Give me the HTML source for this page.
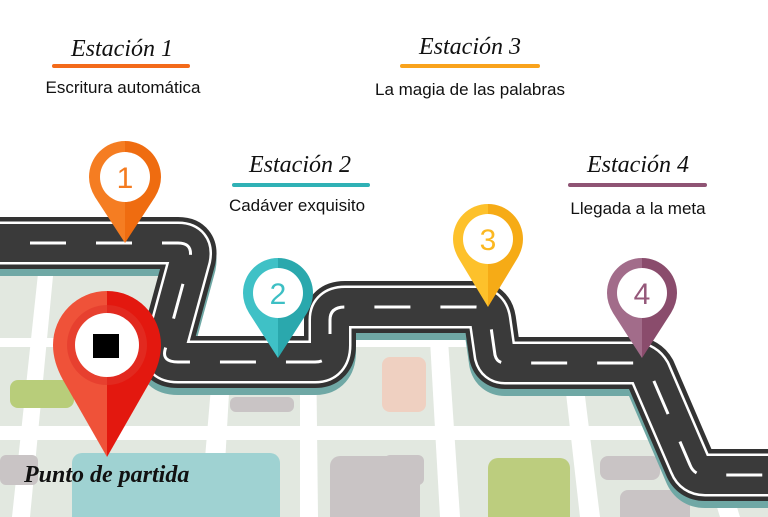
<!DOCTYPE html>
<html><head><meta charset="utf-8"><style>
html,body{margin:0;padding:0;background:#fff;width:768px;height:517px;overflow:hidden}
svg{display:block}
.s{font-family:"Liberation Serif",serif;font-style:italic;font-size:24px;fill:#111}
.l{font-family:"Liberation Sans",sans-serif;font-size:17px;fill:#111}
</style></head><body>
<svg width="768" height="517" viewBox="0 0 768 517" xmlns="http://www.w3.org/2000/svg">
<rect x="0" y="255" width="768" height="262" fill="#e2e8e0"/>
<!-- streets -->
<g fill="#fff">
<rect x="0" y="338" width="768" height="9"/>
<rect x="0" y="426" width="768" height="14"/>
<polygon points="40,255 55,255 30,517 12,517"/>
<polygon points="215,340 232,340 222,517 200,517"/>
<polygon points="300,340 316,340 318,517 300,517"/>
<polygon points="430,340 448,340 460,517 440,517"/>
<polygon points="560,340 578,340 600,517 580,517"/>
<polygon points="690,420 710,420 740,517 720,517"/>
</g>
<!-- blocks -->
<rect x="10" y="380" width="64" height="28" rx="8" fill="#b8cd7a"/>
<rect x="72" y="453" width="208" height="80" rx="10" fill="#9fd2d2"/>
<rect x="0" y="455" width="38" height="30" rx="6" fill="#c9c4c5"/>
<rect x="230" y="397" width="64" height="15" rx="6" fill="#c9c4c5"/>
<rect x="382" y="357" width="44" height="55" rx="8" fill="#efd0c1"/>
<rect x="330" y="456" width="90" height="70" rx="10" fill="#c9c4c5"/>
<rect x="488" y="458" width="82" height="70" rx="10" fill="#bccd7e"/>
<rect x="600" y="456" width="60" height="24" rx="8" fill="#c9c4c5"/>
<rect x="620" y="490" width="70" height="40" rx="8" fill="#c9c4c5"/>
<rect x="384" y="455" width="40" height="30" rx="6" fill="#c9c4c5"/>
<!-- white area above road -->
<path d="M0 0 H768 V475 H705 Q694 475 690 465 L650 372 Q645 363 635 363 H505 Q497 363 495 355 L490 320 Q488 307 475 307 H345 Q330 307 330 320 V345 Q330 362 315 362 H178 Q162 362 165 350 L190 258 Q193 243 178 243 H0 Z" fill="#fff"/>
<!-- road -->
<g fill="none" stroke-linejoin="round">
<path id="r" d="M0 243 H178 Q193 243 190 258 L165 350 Q162 362 178 362 H315 Q330 362 330 345 V320 Q330 307 345 307 H475 Q488 307 490 320 L495 355 Q497 363 505 363 H635 Q645 363 650 372 L690 465 Q694 475 705 475 H768" stroke="#6fa8a5" stroke-width="52" transform="translate(0,7)"/>
<path d="M0 243 H178 Q193 243 190 258 L165 350 Q162 362 178 362 H315 Q330 362 330 345 V320 Q330 307 345 307 H475 Q488 307 490 320 L495 355 Q497 363 505 363 H635 Q645 363 650 372 L690 465 Q694 475 705 475 H768" stroke="#333" stroke-width="52"/>
<path d="M0 243 H178 Q193 243 190 258 L165 350 Q162 362 178 362 H315 Q330 362 330 345 V320 Q330 307 345 307 H475 Q488 307 490 320 L495 355 Q497 363 505 363 H635 Q645 363 650 372 L690 465 Q694 475 705 475 H768" stroke="#fff" stroke-width="43"/>
<path d="M0 243 H178 Q193 243 190 258 L165 350 Q162 362 178 362 H315 Q330 362 330 345 V320 Q330 307 345 307 H475 Q488 307 490 320 L495 355 Q497 363 505 363 H635 Q645 363 650 372 L690 465 Q694 475 705 475 H768" stroke="#3a3a3a" stroke-width="38"/>
<path d="M0 243 H178 Q193 243 190 258 L165 350 Q162 362 178 362 H315 Q330 362 330 345 V320 Q330 307 345 307 H475 Q488 307 490 320 L495 355 Q497 363 505 363 H635 Q645 363 650 372 L690 465 Q694 475 705 475 H768" stroke="#fff" stroke-width="3" stroke-dasharray="36 30" stroke-dashoffset="-30"/>
</g>
<!-- pins -->
<g>
<path d="M89 177 A36 36 0 0 1 125 141 V243 L95 197 Q89 187 89 177Z" fill="#f57d22"/>
<path d="M161 177 A36 36 0 0 0 125 141 V243 L155 197 Q161 187 161 177Z" fill="#ef6c10"/>
<circle cx="125" cy="177" r="25" fill="#fff"/>
<text x="125" y="188" text-anchor="middle" font-family="Liberation Sans" font-size="30" fill="#f47b20">1</text>
</g>
<g>
<path d="M243 293 A35 35 0 0 1 278 258 V358 L249 313 Q243 303 243 293Z" fill="#3fc1c6"/>
<path d="M313 293 A35 35 0 0 0 278 258 V358 L307 313 Q313 303 313 293Z" fill="#2aa8ad"/>
<circle cx="278" cy="293" r="25" fill="#fff"/>
<text x="278" y="304" text-anchor="middle" font-family="Liberation Sans" font-size="30" fill="#3dbfc4">2</text>
</g>
<g>
<path d="M453 239 A35 35 0 0 1 488 204 V307 L459 259 Q453 249 453 239Z" fill="#fdc12b"/>
<path d="M523 239 A35 35 0 0 0 488 204 V307 L517 259 Q523 249 523 239Z" fill="#f6ab16"/>
<circle cx="488" cy="239" r="25" fill="#fff"/>
<text x="488" y="250" text-anchor="middle" font-family="Liberation Sans" font-size="30" fill="#fbb822">3</text>
</g>
<g>
<path d="M607 293 A35 35 0 0 1 642 258 V358 L613 313 Q607 303 607 293Z" fill="#a26c8a"/>
<path d="M677 293 A35 35 0 0 0 642 258 V358 L671 313 Q677 303 677 293Z" fill="#8a4c6c"/>
<circle cx="642" cy="293" r="25" fill="#fff"/>
<text x="642" y="304" text-anchor="middle" font-family="Liberation Sans" font-size="30" fill="#95587a">4</text>
</g>
<g>
<path d="M53 345 A54 54 0 0 1 107 291 V457 L63 380 Q53 362 53 345Z" fill="#ef5239"/>
<path d="M161 345 A54 54 0 0 0 107 291 V457 L151 380 Q161 362 161 345Z" fill="#e3180f"/>
<circle cx="107" cy="345" r="40" fill="#e1352a" opacity="0.6"/>
<circle cx="107" cy="345" r="32" fill="#fff"/>
<rect x="93" y="334" width="26" height="24" fill="#000"/>
</g>
<!-- titles -->
<text class="s" x="122" y="56" text-anchor="middle">Estación 1</text>
<rect x="52" y="64" width="138" height="4" rx="2" fill="#f36a1a"/>
<text class="l" x="123" y="93" text-anchor="middle">Escritura automática</text>
<text class="s" x="470" y="54" text-anchor="middle">Estación 3</text>
<rect x="400" y="64" width="140" height="4" rx="2" fill="#f9a31c"/>
<text class="l" x="470" y="95" text-anchor="middle">La magia de las palabras</text>
<text class="s" x="300" y="172" text-anchor="middle">Estación 2</text>
<rect x="232" y="183" width="138" height="4" rx="2" fill="#2fb1b5"/>
<text class="l" x="297" y="211" text-anchor="middle">Cadáver exquisito</text>
<text class="s" x="638" y="172" text-anchor="middle">Estación 4</text>
<rect x="568" y="183" width="139" height="4" rx="2" fill="#8f5474"/>
<text class="l" x="638" y="214" text-anchor="middle">Llegada a la meta</text>
<text class="s" x="24" y="482" font-size="27" font-weight="bold">Punto de partida</text>
</svg>
</body></html>
